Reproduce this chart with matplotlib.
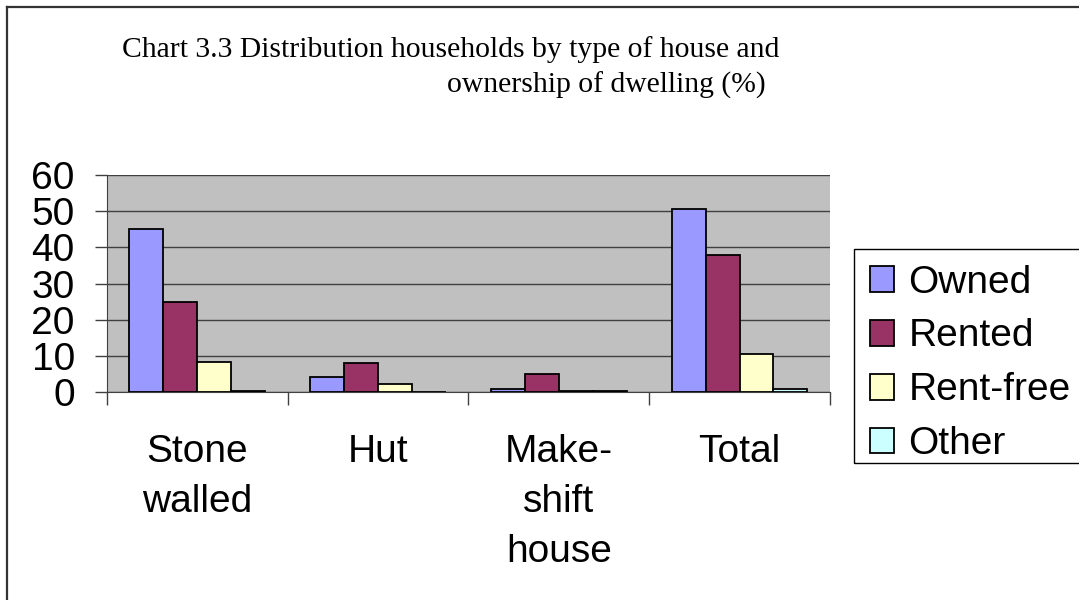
import matplotlib.pyplot as plt
import numpy as np
from matplotlib.patches import Rectangle

categories = ["Stone\nwalled", "Hut", "Make-\nshift\nhouse", "Total"]
series_names = ["Owned", "Rented", "Rent-free", "Other"]
owned = [45.0, 4.3, 1.0, 50.5]
rented = [25.0, 8.2, 5.0, 38.0]
rent_free = [8.5, 2.2, 0.4, 10.7]
other = [0.4, 0.0, 0.4, 1.0]
yticks = [0, 10, 20, 30, 40, 50, 60]

colors = ["#9999ff", "#993366", "#ffffcc", "#ccffff"]
series = [owned, rented, rent_free, other]

fig = plt.figure(figsize=(10.79, 6.0), dpi=100)
fig.patch.set_facecolor("white")

# outer border (top and left only visible)
fig.add_artist(plt.Line2D([6.5 / 1079, 6.5 / 1079], [0, 1 - 6.5 / 600],
                          color="#333333", lw=1.6, transform=fig.transFigure))
fig.add_artist(plt.Line2D([6.5 / 1079, 1], [1 - 6.5 / 600, 1 - 6.5 / 600],
                          color="#333333", lw=1.6, transform=fig.transFigure))

ax = fig.add_axes([106.7 / 1079, 1 - 392.3 / 600, 723.3 / 1079, 217.3 / 600])
ax.set_facecolor("#c0c0c0")

x = np.arange(len(categories))
w = 0.1875
for i, (vals, c, name) in enumerate(zip(series, colors, series_names)):
    ax.bar(x + (i - 1.5) * w, vals, w, color=c, edgecolor="black",
           linewidth=1.3, label=name, zorder=3)

ax.set_xlim(-0.5, len(categories) - 0.5)
ax.set_ylim(0, 60)
ax.set_yticks(yticks)
ax.set_yticklabels([str(v) for v in yticks], fontsize=28,
                   family="Liberation Sans")
ax.yaxis.grid(True, color="#404040", lw=1.0, zorder=1)
ax.set_axisbelow(True)

ax.set_xticks(np.arange(len(categories) + 1) - 0.5, minor=False)
ax.set_xticklabels([])
ax.set_xticks(x, minor=True)
ax.set_xticklabels(categories, minor=True, fontsize=28,
                   family="Liberation Sans", linespacing=1.5, va="top")
ax.tick_params(axis="x", which="minor", length=0, pad=30)
ax.tick_params(axis="x", which="major", length=9, color="#404040", width=1)
ax.tick_params(axis="y", length=9, color="#404040", width=1, pad=14)

for s in ["top", "right"]:
    ax.spines[s].set_visible(False)
ax.spines["left"].set_color("#404040")
ax.spines["bottom"].set_color("#404040")

fig.text(122 / 1079, 1 - 50 / 600,
         "Chart 3.3 Distribution households by type of house and",
         fontsize=21.3, family="Liberation Serif", ha="left", va="center")
fig.text(447 / 1079, 1 - 85 / 600, "ownership of dwelling (%)",
         fontsize=21.3, family="Liberation Serif", ha="left", va="center")

# legend entries without frame, frame drawn separately
leg = fig.legend(loc="upper left", bbox_to_anchor=(854 / 1079, 1 - 249 / 600),
                 prop={"family": "Liberation Sans", "size": 28},
                 frameon=False, handlelength=0.64,
                 handleheight=0.64, handletextpad=0.36, labelspacing=0.46,
                 borderpad=0.4, borderaxespad=0)
fig.add_artist(Rectangle((854 / 1079, 1 - 463 / 600), 240 / 1079, 214 / 600,
                         transform=fig.transFigure, fill=False,
                         edgecolor="black", lw=1.0))

plt.savefig("out.png", dpi=100, facecolor="white")
